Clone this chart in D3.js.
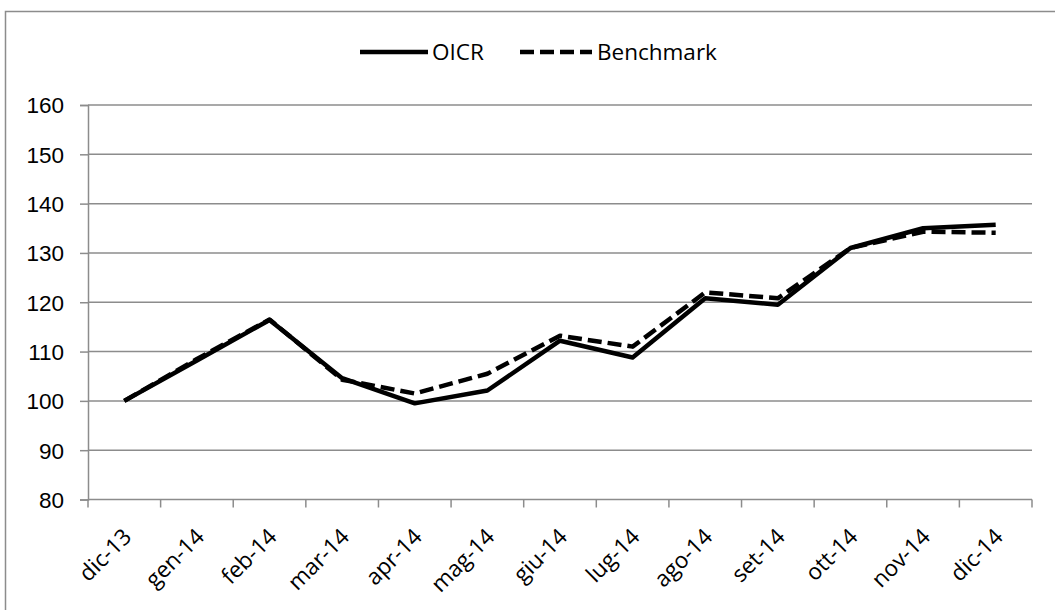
<!DOCTYPE html>
<html>
<head>
<meta charset="utf-8">
<script src="https://cdn.jsdelivr.net/npm/d3@7"></script>
<style>
  html, body { margin: 0; padding: 0; background: #fff; }
  svg { display: block; font-family: "Open Sans", sans-serif; }
</style>
</head>
<body>
<div id="chart"></div>
<script>
(function(){
  // Monthly index values, base 100 at dic-13.
  const months = ['dic-13','gen-14','feb-14','mar-14','apr-14','mag-14','giu-14','lug-14','ago-14','set-14','ott-14','nov-14','dic-14'];
  const oicr = [100, 108.2, 116.4, 104.6, 99.5, 102.1, 112.2, 108.8, 120.8, 119.5, 131.0, 135.0, 135.7];
  const benchmark = [100, 108.5, 116.5, 104.3, 101.5, 105.5, 113.2, 111.0, 122.0, 120.8, 131.0, 134.3, 134.1];
  const yTicks = [80, 90, 100, 110, 120, 130, 140, 150, 160];

  const series = [
    {name: 'OICR', values: oicr, dash: null},
    {name: 'Benchmark', values: benchmark, dash: '14,6'}
  ];

  const width = 1055, height = 610;
  const margin = {top: 105, right: 23, bottom: 110.5, left: 88};
  const fontSize = 22.5;

  const svg = d3.select('#chart').append('svg')
    .attr('width', width).attr('height', height);

  // Outer chart frame (runs off right and bottom edge).
  svg.append('rect')
    .attr('x', 5.5).attr('y', 11.5)
    .attr('width', 1060).attr('height', 610)
    .attr('fill', 'none').attr('stroke', '#8c8c8c').attr('stroke-width', 1.5);

  const innerWidth = width - margin.left - margin.right;
  const innerHeight = height - margin.top - margin.bottom;
  const plot = svg.append('g').attr('transform', `translate(${margin.left},${margin.top})`);

  const x = d3.scaleBand().domain(months).range([0, innerWidth]);
  const y = d3.scaleLinear().domain([80, 160]).range([innerHeight, 0]);

  // Horizontal gridlines.
  plot.append('g').selectAll('line')
    .data(yTicks.filter(d => d > 80))
    .join('line')
    .attr('x1', 0).attr('x2', innerWidth)
    .attr('y1', d => y(d)).attr('y2', d => y(d))
    .attr('stroke', '#8c8c8c').attr('stroke-width', 1.5);

  // Y axis
  const yAxis = plot.append('g')
    .call(d3.axisLeft(y).tickValues(yTicks).tickSize(8).tickPadding(0).tickFormat(d3.format('d')));
  yAxis.select('.domain').attr('stroke', '#8c8c8c').attr('stroke-width', 1.5);
  yAxis.selectAll('.tick line').attr('stroke', '#8c8c8c').attr('stroke-width', 1.5);
  yAxis.selectAll('.tick text')
    .attr('x', -24).attr('dy', '0.35em')
    .attr('font-size', fontSize).attr('fill', '#000')
    .attr('text-anchor', 'end');

  // X axis: ticks on category boundaries
  const xAxisG = plot.append('g').attr('transform', `translate(0,${innerHeight})`);
  xAxisG.append('line')
    .attr('x1', 0).attr('x2', innerWidth)
    .attr('stroke', '#8c8c8c').attr('stroke-width', 1.5);
  xAxisG.selectAll('line.tick')
    .data(d3.range(months.length + 1))
    .join('line')
    .attr('class', 'tick')
    .attr('x1', i => i < months.length ? x(months[i]) : innerWidth)
    .attr('x2', i => i < months.length ? x(months[i]) : innerWidth)
    .attr('y1', 0).attr('y2', 8)
    .attr('stroke', '#8c8c8c').attr('stroke-width', 1.5);
  xAxisG.selectAll('text')
    .data(months)
    .join('text')
    .attr('font-size', fontSize).attr('fill', '#000')
    .attr('text-anchor', 'end')
    .attr('transform', d => `translate(${x(d) + x.bandwidth() / 2 + 3},${33}) rotate(-45)`)
    .attr('dy', '0.35em')
    .text(d => d);

  // Lines
  const line = d3.line()
    .x((d, i) => x(months[i]) + x.bandwidth() / 2)
    .y(d => y(d));

  plot.selectAll('path.series')
    .data(series.slice().reverse())
    .join('path')
    .attr('class', 'series')
    .attr('fill', 'none')
    .attr('stroke', '#000')
    .attr('stroke-width', 4.5)
    .attr('stroke-linejoin', 'round')
    .attr('stroke-dasharray', d => d.dash)
    .attr('d', d => line(d.values));

  // Legend
  const legend = svg.append('g');
  const legendItems = [
    {name: 'OICR', dash: null, x0: 360, x1: 428, tx: 432},
    {name: 'Benchmark', dash: '14,6', x0: 520, x1: 592, tx: 597}
  ];
  legendItems.forEach(item => {
    legend.append('line')
      .attr('x1', item.x0).attr('x2', item.x1)
      .attr('y1', 52).attr('y2', 52)
      .attr('stroke', '#000').attr('stroke-width', 4.5)
      .attr('stroke-dasharray', item.dash);
    legend.append('text')
      .attr('font-size', fontSize)
      .attr('x', item.tx).attr('y', 52)
      .attr('dy', '0.35em')
      .text(item.name);
  });
})();
</script>
</body>
</html>
